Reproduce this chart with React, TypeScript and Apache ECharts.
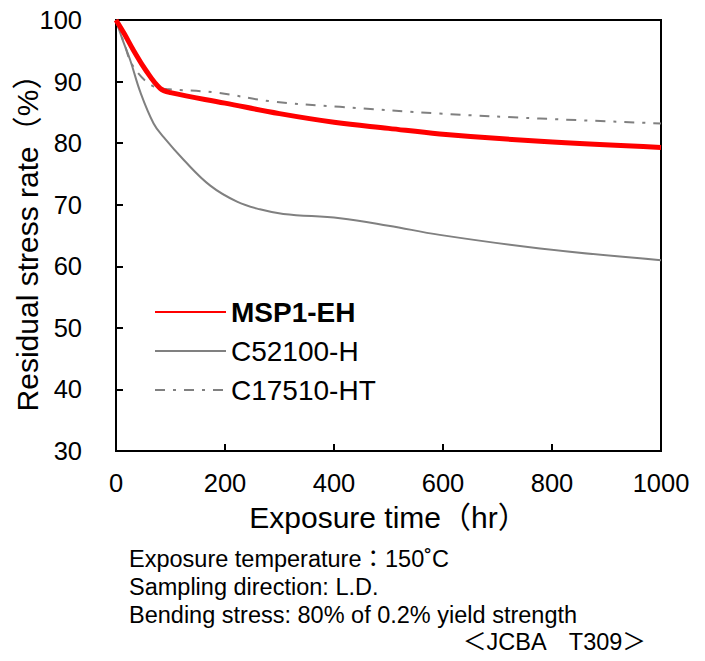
import React, { useEffect, useRef } from "react";
import * as echarts from "echarts";

const FONT = "'Liberation Sans', Arial, 'Noto Sans CJK JP', sans-serif";

const seriesNames = ["MSP1-EH", "C52100-H", "C17510-HT"];

const mspTime = [0, 15, 32, 55, 81, 100, 200, 300, 400, 500, 594, 778, 1000];
const mspValue = [100, 97.8, 95.1, 91.8, 88.9, 88.2, 86.5, 84.8, 83.4, 82.4, 81.5, 80.3, 79.3];

const c52Time = [0, 12, 26, 45, 69, 87, 124, 173, 222, 264, 307, 411, 500, 594, 778, 1000];
const c52Value = [100, 96.8, 93.5, 88.2, 83.2, 81.0, 77.3, 73.1, 70.5, 69.25, 68.5, 67.8, 66.6, 65.1, 62.9, 61.0];

const c17Time = [0, 15, 32, 69, 93, 185, 283, 411, 594, 778, 1000];
const c17Value = [100, 96.2, 92.4, 89.2, 88.8, 88.2, 86.8, 85.9, 84.8, 84.0, 83.2];

const xTicks = [0, 200, 400, 600, 800, 1000];
const yTicks = [30, 40, 50, 60, 70, 80, 90, 100];

const notes = [
  "Exposure temperature：150˚C",
  "Sampling direction: L.D.",
  "Bending stress: 80% of 0.2% yield strength",
];
const sourceNote = "＜JCBA　T309＞";

const zip = (a: number[], b: number[]) => a.map((v, i) => [v, b[i]]);

export default function App() {
  const ref = useRef<HTMLDivElement>(null);
  useEffect(() => {
    if (!ref.current) return;
    const chart = echarts.init(ref.current, undefined, { renderer: "svg" });
    chart.setOption({
      animation: false,
      backgroundColor: "#ffffff",
      grid: {
        left: 116,
        top: 20,
        right: 44,
        bottom: 210,
        show: true,
        borderColor: "#000",
        borderWidth: 2,
        backgroundColor: "transparent",
        containLabel: false,
        outerBoundsMode: "none",
      },
      legend: {
        left: 149,
        top: 293,
        orient: "vertical",
        itemWidth: 71,
        itemHeight: 20,
        itemGap: 11,
        itemStyle: { opacity: 0 },
        textStyle: { fontFamily: FONT, fontSize: 28, color: "#000" },
        data: [
          { name: seriesNames[0], textStyle: { fontWeight: "bold" } },
          { name: seriesNames[1] },
          { name: seriesNames[2] },
        ],
      },
      xAxis: {
        type: "value",
        min: xTicks[0],
        max: xTicks[xTicks.length - 1],
        interval: 200,
        name: "Exposure time（hr）",
        nameLocation: "middle",
        nameGap: 51,
        nameMoveOverlap: false,
        nameTextStyle: { fontFamily: FONT, fontSize: 30, color: "#000" },
        axisLine: { lineStyle: { color: "#000", width: 2 } },
        axisTick: { inside: true, length: 7, lineStyle: { color: "#000", width: 2 } },
        axisLabel: {
          fontFamily: FONT,
          fontSize: 25.5,
          color: "#000",
          margin: 19,
          formatter: (v: number) => String(v),
        },
        splitLine: { show: false },
      },
      yAxis: {
        type: "value",
        min: yTicks[0],
        max: yTicks[yTicks.length - 1],
        interval: 10,
        name: "Residual stress rate（%）",
        nameLocation: "middle",
        nameGap: 74,
        nameMoveOverlap: false,
        nameTextStyle: { fontFamily: FONT, fontSize: 30, color: "#000" },
        axisLine: { lineStyle: { color: "#000", width: 2 } },
        axisTick: { inside: true, length: 7, lineStyle: { color: "#000", width: 2 } },
        axisLabel: { fontFamily: FONT, fontSize: 25.5, color: "#000", margin: 34 },
        splitLine: { show: false },
      },
      series: [
        {
          name: seriesNames[2],
          type: "line",
          smooth: 0.4,
          symbol: "none",
          data: zip(c17Time, c17Value),
          lineStyle: { color: "#808080", width: 2, type: [10, 8, 3, 8] },
          itemStyle: { color: "#808080" },
          z: 2,
        },
        {
          name: seriesNames[1],
          type: "line",
          smooth: 0.4,
          symbol: "none",
          data: zip(c52Time, c52Value),
          lineStyle: { color: "#808080", width: 2 },
          itemStyle: { color: "#808080" },
          z: 2,
        },
        {
          name: seriesNames[0],
          type: "line",
          smooth: 0.4,
          symbol: "none",
          data: zip(mspTime, mspValue),
          lineStyle: { color: "#ff0000", width: 5 },
          itemStyle: { color: "#ff0000" },
          z: 3,
        },
      ],
      graphic: [
        ...notes.map((t, i) => ({
          type: "text",
          left: 129,
          top: 547 + i * 28,
          style: { text: t, fontFamily: FONT, fontSize: 23.5, fill: "#000" },
        })),
        {
          type: "text",
          left: 463,
          top: 630,
          style: { text: sourceNote, fontFamily: FONT, fontSize: 23.5, fill: "#000" },
        },
      ],
    });
    return () => chart.dispose();
  }, []);
  return <div ref={ref} style={{ width: 705, height: 661, position: "absolute", left: 0, top: 0 }} />;
}
